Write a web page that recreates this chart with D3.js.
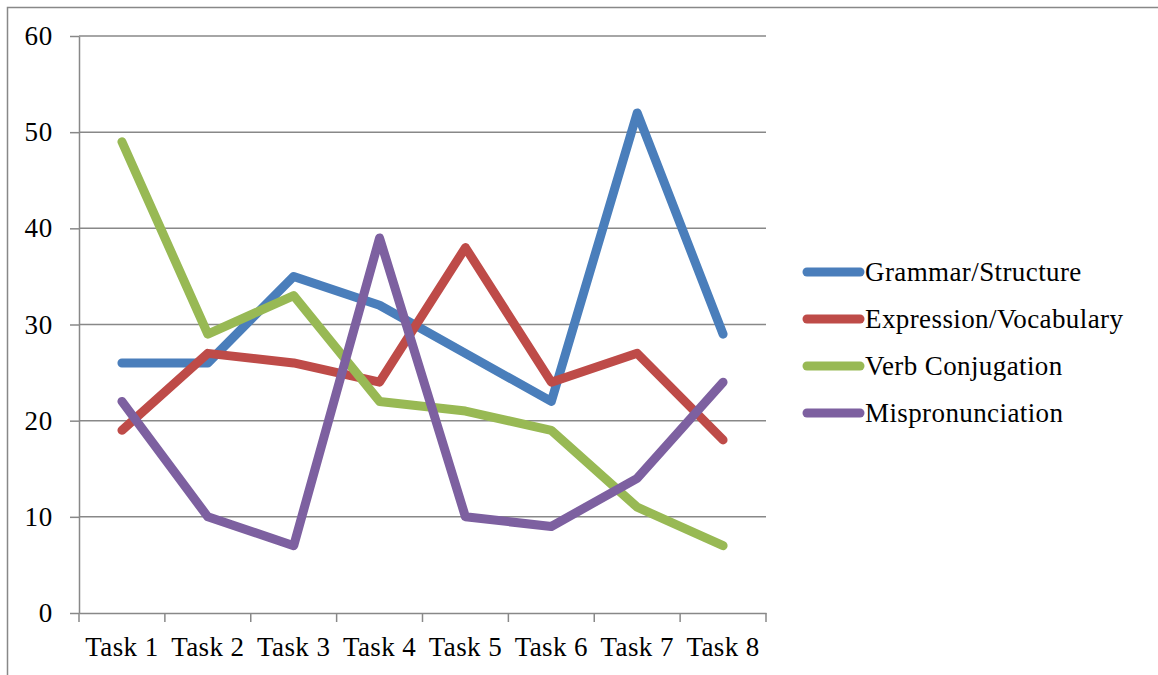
<!DOCTYPE html>
<html><head><meta charset="utf-8">
<script src="https://cdn.jsdelivr.net/npm/d3@7"></script>
<style>
html,body{margin:0;padding:0;background:#fff;}
svg{display:block;}
</style></head>
<body>
<svg id="chart" width="1158" height="675"></svg>
<script>
const categories = ["Task 1","Task 2","Task 3","Task 4","Task 5","Task 6","Task 7","Task 8"];
const seriesNames = ["Grammar/Structure","Expression/Vocabulary","Verb Conjugation","Mispronunciation"];
const grammar = [26, 26, 35, 32, 27, 22, 52, 29];
const expression = [19, 27, 26, 24, 38, 24, 27, 18];
const verb = [49, 29, 33, 22, 21, 19, 11, 7];
const mispron = [22, 10, 7, 39, 10, 9, 14, 24];
const yTicks = [0, 10, 20, 30, 40, 50, 60];
const colors = ["#4A7EBB", "#BE4B48", "#98B954", "#7D60A0"];

(function () {
const series = [grammar, expression, verb, mispron].map((v, i) => ({name: seriesNames[i], values: v, color: colors[i]}));

const svg = d3.select("#chart");
const font = "'Liberation Serif', 'Times New Roman', serif";
const gridColor = "#888888";

// outer border
svg.append("path").attr("d", "M7.5,675 L7.5,7.5 L1158,7.5")
  .attr("fill", "none").attr("stroke", gridColor).attr("stroke-width", 1.5);

const pL = 79, pR = 766, pT = 36, pB = 613;
const x = d3.scaleBand().domain(categories).range([pL, pR]).padding(0);
const y = d3.scaleLinear().domain([0, 60]).range([pB, pT]);

// gridlines
svg.append("g").selectAll("line").data(yTicks.filter(d => d > 0)).join("line")
  .attr("x1", pL).attr("x2", pR)
  .attr("y1", d => y(d)).attr("y2", d => y(d))
  .attr("stroke", gridColor).attr("stroke-width", 1.5);

// y axis
const yAxis = svg.append("g").attr("transform", `translate(${pL},0)`)
  .call(d3.axisLeft(y).tickValues(yTicks).tickSize(9).tickPadding(17).tickSizeOuter(0));
yAxis.select(".domain").attr("stroke", gridColor).attr("stroke-width", 1.5);
yAxis.selectAll(".tick line").attr("stroke", gridColor).attr("stroke-width", 1.5);
yAxis.selectAll("text").attr("font-family", font).attr("font-size", 27).attr("fill", "#000")
  .attr("letter-spacing", 0.8);

// x axis
const xAxis = svg.append("g").attr("transform", `translate(0,${pB})`)
  .call(d3.axisBottom(x).tickSize(0).tickPadding(24));
xAxis.select(".domain").attr("stroke", gridColor).attr("stroke-width", 1.5);
xAxis.selectAll("text").attr("font-family", font).attr("font-size", 27).attr("fill", "#000")
  .attr("letter-spacing", 0.4);
// category boundary ticks
const bounds = categories.map(c => x(c)).concat([x(categories[categories.length-1]) + x.bandwidth()]);
xAxis.append("g").selectAll("line").data(bounds).join("line")
  .attr("x1", d => d).attr("x2", d => d).attr("y1", 0).attr("y2", 9)
  .attr("stroke", gridColor).attr("stroke-width", 1.5);

// lines
const line = d3.line().x((d, i) => x(categories[i]) + x.bandwidth() / 2).y(d => y(d));
svg.append("g").selectAll("path").data(series).join("path")
  .attr("d", d => line(d.values))
  .attr("fill", "none").attr("stroke", d => d.color)
  .attr("stroke-width", 9).attr("stroke-linejoin", "round").attr("stroke-linecap", "round");

// legend
const lg = svg.append("g");
const legendY = d3.scalePoint().domain(seriesNames).range([272, 413]);
series.forEach(s => {
  const yy = legendY(s.name);
  lg.append("line").attr("x1", 807).attr("x2", 860).attr("y1", yy).attr("y2", yy)
    .attr("stroke", s.color).attr("stroke-width", 9).attr("stroke-linecap", "round");
  lg.append("text").attr("x", 865).attr("y", yy).attr("dy", "0.35em")
    .attr("font-family", font).attr("font-size", 27).attr("letter-spacing", 0.4)
    .attr("fill", "#000").text(s.name);
});
})();
</script>
</body></html>
